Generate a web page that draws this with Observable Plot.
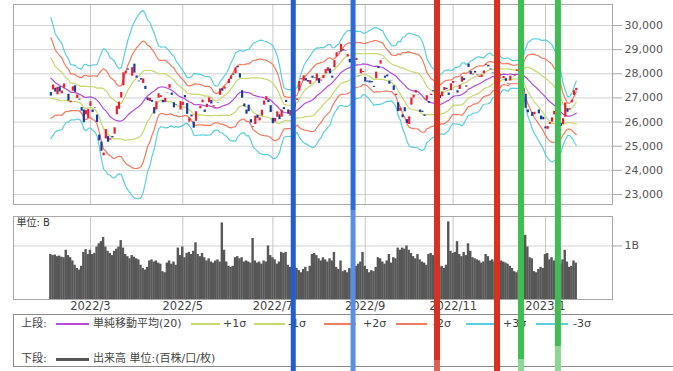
<!DOCTYPE html>
<html><head><meta charset="utf-8">
<script src="https://cdn.jsdelivr.net/npm/d3@7"></script>
<script src="https://cdn.jsdelivr.net/npm/@observablehq/plot@0.6"></script>
<style>
html,body{margin:0;padding:0;background:#fff;}
body{width:673px;height:371px;overflow:hidden;font-family:"DejaVu Sans","Noto Sans CJK JP",sans-serif;}
#wrap{position:relative;width:673px;height:371px;overflow:hidden;}
.abs{position:absolute;}
.lg{position:absolute;font-size:11px;line-height:14px;color:#444;white-space:nowrap;}
.sw{position:absolute;}
</style></head><body><div id="wrap"></div>
<script>
// ---- data (trading-day index; 0 = 2022/2/1) ----
const priorCloses = [29301,29332,28487,28479,28222,28765,28489,28124,28334,27467,27467,27773,27522,27588,27131,27011,26170,26717,27002];
const closes = [
27078,27533,27241,27440,27249,27284,27580,27696,26865,26866,27460,27232,27122,26910,26449,25971,26476,26527,
26844,26393,26577,25985,25221,24791,24717,25690,25163,25308,25346,25762,26653,26827,27224,28040,28110,28150,27944,28253,28028,27821,
27666,27737,27788,27350,26889,26986,26822,26335,26843,27173,27093,26800,26986,27218,27553,27105,26590,26700,26387,26848,
26819,27004,26319,26168,26214,25749,26428,26547,26660,26911,26403,26739,27002,26749,26678,26605,26782,27370,27280,
27458,27414,27762,27916,27944,28234,28247,27825,26988,26630,26327,26431,25963,25771,26246,26150,26172,26491,26872,27050,26805,26393,
25936,26154,26424,26108,26491,26517,26812,26337,26479,26644,26789,26962,27681,27804,27915,27700,27655,27716,27816,27802,
27993,27595,27742,27932,28176,28250,28000,27819,28547,28872,28869,29223,28943,28931,28795,28453,28314,28480,28642,27879,28196,28092,
27661,27651,27620,27627,27431,28066,28215,28542,28615,27819,27876,27568,27689,27314,27154,26432,26572,26174,26423,25937,
26216,26993,27121,27312,27116,26402,26397,26238,27091,26776,27156,27257,27007,26891,26975,27250,27432,27346,27105,27588,
27679,27664,27200,27528,27873,27717,27447,28264,27964,27990,28029,27931,27900,27945,28116,28384,28284,28163,28028,27969,
28227,27778,27821,27886,27686,27575,27901,27843,27955,28157,28052,27527,27238,26569,26388,26508,26235,26406,26448,26341,26094,26095,
25717,25821,25974,26176,26447,26450,26120,25822,26139,26792,26406,26554,26907,27300,27396];
const opens = [
27220,27330,27400,27130,27460,27170,27400,27700,27150,26800,27280,27500,26980,26950,26600,26500,26300,26150,
26650,26500,26600,26290,25460,25170,24600,25300,25400,25250,25400,25500,26300,26530,27000,27500,28000,28200,27950,27900,28400,27910,
27700,27800,27600,27480,27000,26850,26900,26600,26500,26990,27020,26900,26800,27200,27400,27200,26800,26720,26400,26500,
26690,27100,26770,26000,26290,26000,26030,26550,26550,26800,26500,26600,26800,26900,26620,26580,26800,27110,27380,
27360,27420,27600,27770,27990,28000,28300,28000,27300,26750,26500,26700,26100,25800,25900,26280,26050,26250,26700,26900,26900,26680,
26150,26000,26200,26300,26200,26600,26900,26500,26250,26650,26600,26900,27280,27750,27700,27800,27720,27560,27900,27830,
27700,27800,27700,27800,28000,28100,28200,27900,28250,28700,28900,28900,29000,28950,28700,28600,28400,28400,28550,27900,28000,28050,
27850,27700,27700,27680,27480,27800,28300,28400,28600,27900,27950,27700,27700,27500,27100,26800,26450,26300,26600,26100,
25900,26700,27000,27200,27100,26500,26450,26300,26900,26850,27100,27300,27050,26950,27100,27050,27300,27400,27200,27300,
27600,27650,27300,27350,27650,27800,27500,28400,28100,27950,28100,27950,27850,27850,28000,28350,28350,28200,28050,28000,
28300,28000,27800,27800,27800,27600,27700,27850,27900,28100,28100,27600,27400,27150,26500,26500,26400,26300,26450,26500,26250,26200,
25800,25700,25900,26000,26300,26500,26300,25950,25900,26200,26550,26500,26800,27100,27300];
const volumes = [
0.84,0.82,0.83,0.80,0.81,0.79,0.78,0.92,0.82,0.78,
0.72,0.64,0.58,0.55,0.62,0.88,0.93,0.84,0.92,0.84,
0.86,0.98,1.04,1.08,1.16,0.98,0.90,0.86,0.82,0.90,
0.94,0.98,1.10,0.96,0.84,0.80,0.76,0.82,0.79,0.76,
0.74,0.64,0.58,0.55,0.60,0.72,0.74,0.70,0.72,0.68,
0.66,0.52,0.50,0.68,0.72,0.66,0.70,0.64,0.96,0.82,
0.98,0.78,0.86,0.88,0.84,0.90,1.06,0.84,0.80,0.86,
0.78,0.72,0.76,0.70,0.68,0.72,0.74,0.70,1.43,0.92,
0.70,0.62,0.60,0.62,0.78,0.80,0.76,0.78,0.70,0.72,
0.70,0.68,1.14,0.72,0.68,0.70,0.66,0.72,0.70,1.00,
0.82,0.78,0.74,0.66,0.70,0.88,0.86,0.88,0.64,0.60,
0.66,0.62,0.58,0.54,0.50,0.56,0.60,0.52,0.62,0.84,
0.86,0.82,0.76,0.72,0.78,0.74,0.70,0.76,0.72,0.88,
0.60,0.56,0.72,0.52,0.54,0.50,0.58,0.56,0.60,0.62,
0.66,0.70,0.88,0.62,0.56,0.50,0.54,0.52,0.60,0.78,
0.76,0.70,0.66,0.72,0.84,0.68,0.78,0.76,0.96,0.92,
0.96,0.94,1.00,0.92,0.86,0.80,0.76,0.84,0.74,0.70,
0.68,0.64,0.84,0.86,0.82,0.70,0.62,0.60,0.62,0.58,
0.64,1.45,0.90,0.86,0.88,1.08,0.84,0.80,0.88,0.82,
1.04,0.90,0.78,0.76,0.74,0.72,0.68,0.70,0.84,0.80,
0.72,0.74,0.70,0.74,0.68,0.72,0.70,0.68,0.66,0.62,
0.58,0.52,0.50,0.54,0.58,0.80,1.20,0.98,0.78,0.76,
0.52,0.50,0.56,0.60,0.58,0.84,0.86,0.74,0.78,0.72,
0.76,0.70,0.66,0.74,0.92,0.70,0.60,0.62,0.72,0.68];
const monthTickIdx = [18, 60, 101, 143, 183, 225];
const monthTickLabels = ["2022/3","2022/5","2022/7","2022/9","2022/11","2023/1"];
const priceTicks = [23000,24000,25000,26000,27000,28000,29000,30000];
const volumeTicks = [1];
const volumeTickLabels = ["1B"];
const bandSigmas = [3,-3,2,-2,1,-1,0];
const bandLabels = ["単純移動平均(20)","+1σ","-1σ","+2σ","-2σ","+3σ","-3σ"];
const markerIdx = [110.5, 137.7, 175.9, 203.2, 214.1, 230.9];

// ---- build tables ----
const rows = priorCloses.map((c,k)=>({i:k-priorCloses.length, close:c}))
  .concat(closes.map((c,i)=>({i, close:c, open:opens[i], vol:volumes[i]})));
const candles = rows.filter(d => d.i >= 0);

const C = {purple:"#b44ed6", green:"#c6d96c", red:"#f27a5e", cyan:"#5acfdc", up:"#ee1c2c", down:"#1b3a9e"};
const sigColor = s => s===0 ? C.purple : Math.abs(s)===1 ? C.green : Math.abs(s)===2 ? C.red : C.cyan;
const popSd = v => { const m = d3.mean(v); return Math.sqrt(d3.mean(v, x => (x-m)*(x-m))); };

const xDomain = [-17.0, 255.5];
const font = {fontFamily:'"DejaVu Sans","Noto Sans CJK JP",sans-serif', fontSize:"11px", background:"transparent", overflow:"visible"};

const bands = bandSigmas.map(s => Plot.lineY(rows, Plot.windowY(
  {k:20, anchor:"end", strict:true, reduce: v => d3.mean(v) + s*popSd(v)},
  {x:"i", y:"close", stroke:sigColor(s), strokeWidth:1.2})));

const price = Plot.plot({
  width:673, height:210, marginLeft:13, marginRight:61, marginTop:4, marginBottom:6,
  style:font,
  x:{domain:xDomain, axis:null},
  y:{domain:[22586, 30870], axis:null},
  marks:[
    Plot.ruleY(priceTicks, {stroke:"#d2d2d2"}),
    Plot.ruleX(monthTickIdx, {stroke:"#c6c6c6"}),
    ...bands,
    Plot.ruleX(candles, {x:"i", y1:"open", y2:"close", stroke:d => d.close >= d.open ? C.up : C.down, strokeWidth:2.2}),
    Plot.frame({stroke:"#a8a8a8"}),
    Plot.axisY(priceTicks, {anchor:"right", tickSize:9, tickPadding:3, tickFormat:d3.format(","), stroke:"#aaa", fill:"#555", fontSize:11, label:null})
  ]
});
price.classList.add("abs"); price.style.left="0px"; price.style.top="0px";

const volLabel = new Map(volumeTicks.map((d,k)=>[d, volumeTickLabels[k]]));
const monLabel = new Map(monthTickIdx.map((d,k)=>[d, monthTickLabels[k]]));
const volume = Plot.plot({
  width:673, height:102, marginLeft:13, marginRight:61, marginTop:6, marginBottom:13,
  style:font,
  x:{domain:xDomain, axis:null},
  y:{domain:[0, 1.55], axis:null},
  marks:[
    Plot.ruleY(volumeTicks, {stroke:"#d2d2d2"}),
    Plot.ruleX(monthTickIdx, {stroke:"#c6c6c6"}),
    Plot.rectY(candles, {x1:d => d.i-0.55, x2:d => d.i+0.55, y:"vol", fill:"#575757"}),
    Plot.frame({stroke:"#a8a8a8"}),
    Plot.text(["単位: B"], {text:d=>d, frameAnchor:"top-left", dx:3, dy:2, fontSize:10, fill:"#333"}),
    Plot.axisY(volumeTicks, {anchor:"right", tickSize:9, tickPadding:3, tickFormat:d => volLabel.get(d), stroke:"#aaa", fill:"#555", fontSize:11, label:null}),
    Plot.axisX(monthTickIdx, {anchor:"bottom", tickSize:0, tickPadding:2, tickFormat:d => monLabel.get(d), fill:"#444", fontSize:11.5, label:null})
  ]
});
volume.classList.add("abs"); volume.style.left="0px"; volume.style.top="210px";

const wrap = document.getElementById("wrap");
wrap.appendChild(price);
wrap.appendChild(volume);

// ---- legend ----
const lg = document.createElement("div");
lg.className = "abs";
Object.assign(lg.style, {left:"13px", top:"314px", width:"700px", height:"53px", border:"1.5px solid #8a8a8a", boxSizing:"border-box"});
wrap.appendChild(lg);
function txt(s, x, y){ const e=document.createElement("div"); e.className="lg"; e.textContent=s; e.style.left=(x-13)+"px"; e.style.top=(y-314-7)+"px"; lg.appendChild(e); }
function sw(x, w, y, color, h){ const e=document.createElement("div"); e.className="sw"; Object.assign(e.style,{left:(x-13)+"px", top:(y-314-h/2)+"px", width:w+"px", height:h+"px", background:color}); lg.appendChild(e); }
const r1 = 323, r2 = 358;
txt("上段:", 20, r1);
const swX = [55,190,253,323,395,465,535], swW = [33,29,31,32,31,31,32], txX = [92,222,287,362,432,502,572];
const legendSig = [0,1,-1,2,-2,3,-3];
legendSig.forEach((s,k) => { sw(swX[k], swW[k], r1, sigColor(s), 1.5); txt(bandLabels[k], txX[k], r1); });
txt("下段:", 20, r2);
sw(55, 33, r2, "#555", 3);
txt("出来高 単位:(百株/口/枚)", 92, r2);

// ---- annotation lines (positions via the plot's x scale) ----
const xs = price.scale("x");
const mk = [
  {c:"#1f5ed3", w:5},
  {c:"#2d6bd8", w:5, lc:"#5d8ee6", split:210},
  {c:"#d8311f", w:6, lc:"#e0604f", split:360},
  {c:"#d8311f", w:6},
  {c:"#3fbf4f", w:6, lc:"#8bd894", split:359},
  {c:"#3fbf4f", w:6, lc:"#8bd894", split:346}
];
const ov = d3.create("svg").attr("width",673).attr("height",371).attr("class","abs").style("left","0px").style("top","0px");
markerIdx.forEach((v,k) => {
  const m = mk[k], px = xs.apply(v), split = m.split ?? 371;
  ov.append("rect").attr("x", px - m.w/2).attr("y", 0).attr("width", m.w).attr("height", split).attr("fill", m.c);
  if (split < 371) ov.append("rect").attr("x", px - m.w/2).attr("y", split).attr("width", m.w).attr("height", 371-split).attr("fill", m.lc);
});
wrap.appendChild(ov.node());
</script></body></html>
